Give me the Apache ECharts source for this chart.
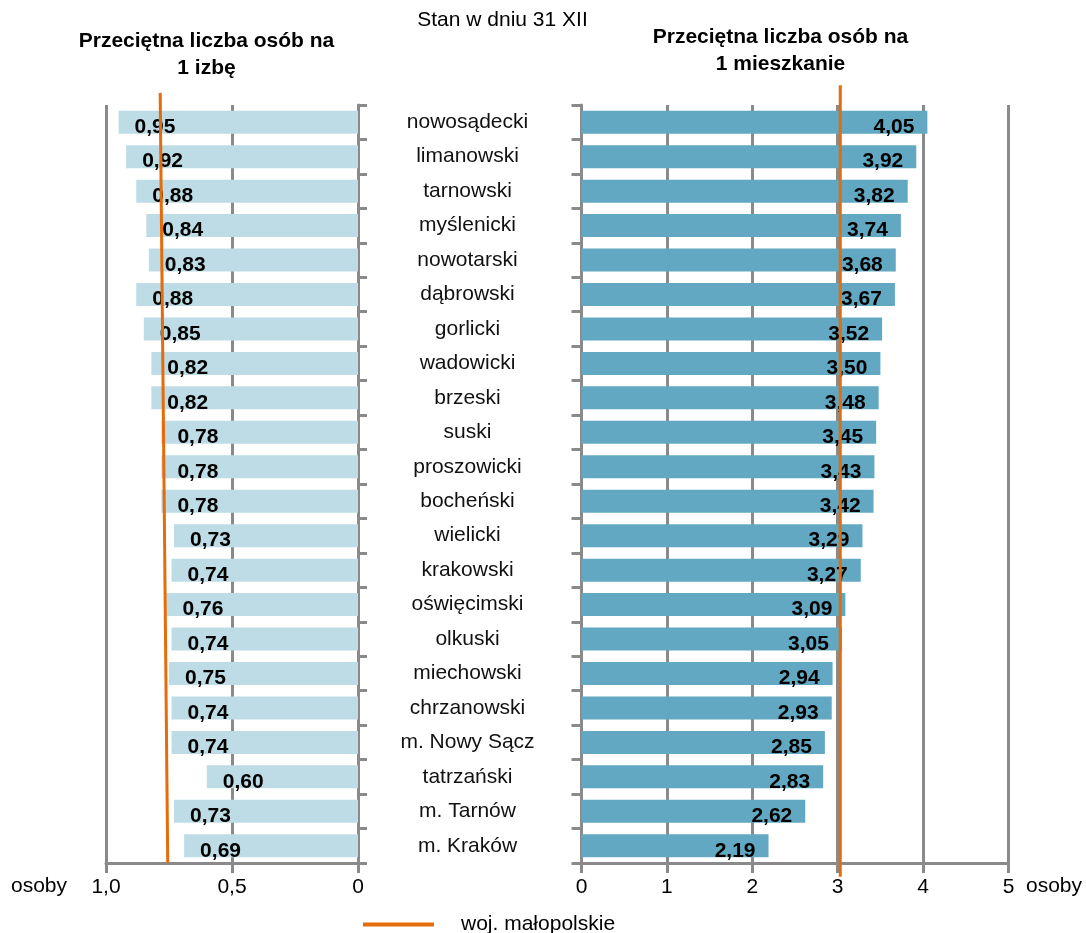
<!DOCTYPE html>
<html>
<head>
<meta charset="utf-8">
<script src="https://cdn.jsdelivr.net/npm/echarts@6/dist/echarts.min.js"></script>
<style>
html, body { margin: 0; padding: 0; background: #fff; }
#chart { width: 1086px; height: 933px; }
</style>
</head>
<body>
<div id="chart"></div>
<script>
var categories = ['nowosądecki', 'limanowski', 'tarnowski', 'myślenicki', 'nowotarski', 'dąbrowski',
    'gorlicki', 'wadowicki', 'brzeski', 'suski', 'proszowicki', 'bocheński', 'wielicki', 'krakowski',
    'oświęcimski', 'olkuski', 'miechowski', 'chrzanowski', 'm. Nowy Sącz', 'tatrzański', 'm. Tarnów', 'm. Kraków'];
var perRoom = [0.95, 0.92, 0.88, 0.84, 0.83, 0.88, 0.85, 0.82, 0.82, 0.78, 0.78, 0.78, 0.73, 0.74,
    0.76, 0.74, 0.75, 0.74, 0.74, 0.60, 0.73, 0.69];
var perDwelling = [4.05, 3.92, 3.82, 3.74, 3.68, 3.67, 3.52, 3.50, 3.48, 3.45, 3.43, 3.42, 3.29, 3.27,
    3.09, 3.05, 2.94, 2.93, 2.85, 2.83, 2.62, 2.19];
// woj. małopolskie line, as drawn (left one is slightly slanted in the source)
var avgRoomLine = [[0.785, 1.016], [0.755, 0]];
var avgDwellingLine = [[3.03, 1.026], [3.03, -0.018]];
var roomTicks = { min: 0, max: 1, interval: 0.5 };
var dwellingTicks = { min: 0, max: 5, interval: 1 };

var FONT = '"Liberation Sans", Arial, sans-serif';
var GRAY = '#8a8a8a';
var ORANGE = '#E46C0A';

function comma(v, d) {
    return v.toFixed(d).replace('.', ',');
}

var axisLine = { show: true, lineStyle: { color: GRAY, width: 3 } };
var tick = { show: true, length: 10, lineStyle: { color: GRAY, width: 3 } };
var split = { show: true, lineStyle: { color: GRAY, width: 3 } };

var myChart = echarts.init(document.getElementById('chart'));
var option = {
    animation: false,
    textStyle: { fontFamily: FONT },
    grid: [
        { left: 106, right: 728, top: 105, bottom: 70 },
        { left: 581.5, right: 77.5, top: 105, bottom: 70 }
    ],
    xAxis: [
        {
            gridIndex: 0, type: 'value', inverse: true,
            min: roomTicks.min, max: roomTicks.max, interval: roomTicks.interval,
            axisLine: axisLine, axisTick: tick, splitLine: split,
            axisLabel: {
                margin: 14, fontSize: 21, color: '#000', fontFamily: FONT,
                formatter: function (v) { return v === 0 ? '0' : comma(v, 1); }
            }
        },
        {
            gridIndex: 1, type: 'value',
            min: dwellingTicks.min, max: dwellingTicks.max, interval: dwellingTicks.interval,
            axisLine: axisLine, axisTick: tick, splitLine: split,
            axisLabel: { margin: 14, fontSize: 21, color: '#000', fontFamily: FONT }
        }
    ],
    yAxis: [
        {
            gridIndex: 0, type: 'category', data: categories, inverse: true, position: 'right',
            axisLine: axisLine, axisTick: { show: true, length: 9, lineStyle: { color: GRAY, width: 3 } },
            axisLabel: { show: false }
        },
        { gridIndex: 0, type: 'value', min: 0, max: 1, show: false },
        {
            gridIndex: 1, type: 'category', data: categories, inverse: true, position: 'left',
            axisLine: axisLine, axisTick: { show: true, length: 10, lineStyle: { color: GRAY, width: 3 } },
            axisLabel: {
                margin: 114, align: 'center', fontSize: 21, color: '#111', fontFamily: FONT,
                padding: [10, 0, 0, 0]
            }
        },
        { gridIndex: 1, type: 'value', min: 0, max: 1, show: false }
    ],
    legend: {
        left: 358, top: 909, icon: 'rect', itemWidth: 71, itemHeight: 4,
        data: ['woj. małopolskie'],
        textStyle: { fontSize: 21, color: '#000', fontFamily: FONT, padding: [0, 0, 0, 22] }
    },
    graphic: [
        { type: 'text', x: 502.5, y: 20, style: { text: 'Stan w dniu 31 XII', font: '21px ' + FONT, fill: '#000', align: 'center', verticalAlign: 'middle' } },
        { type: 'text', x: 206.5, y: 55, style: { text: 'Przeciętna liczba osób na\n1 izbę', font: 'bold 21px ' + FONT, lineHeight: 27, fill: '#000', align: 'center', verticalAlign: 'middle' } },
        { type: 'text', x: 780.5, y: 51, style: { text: 'Przeciętna liczba osób na\n1 mieszkanie', font: 'bold 21px ' + FONT, lineHeight: 27, fill: '#000', align: 'center', verticalAlign: 'middle' } },
        { type: 'text', x: 39, y: 886, style: { text: 'osoby', font: '21px ' + FONT, fill: '#000', align: 'center', verticalAlign: 'middle' } },
        { type: 'text', x: 1054, y: 886, style: { text: 'osoby', font: '21px ' + FONT, fill: '#000', align: 'center', verticalAlign: 'middle' } }
    ],
    series: [
        {
            name: 'izba', type: 'bar', xAxisIndex: 0, yAxisIndex: 0, data: perRoom, barWidth: 23,
            itemStyle: { color: '#BDDCE5' },
            label: {
                show: true, position: 'insideLeft', distance: 0, offset: [16, 5],
                fontSize: 21, fontWeight: 'bold', color: '#000', fontFamily: FONT,
                formatter: function (p) { return comma(p.value, 2); }
            }
        },
        {
            name: 'mieszkanie', type: 'bar', xAxisIndex: 1, yAxisIndex: 2, data: perDwelling, barWidth: 23,
            itemStyle: { color: '#62A8C2' },
            label: {
                show: true, position: 'insideRight', distance: 0, offset: [-13, 5],
                fontSize: 21, fontWeight: 'bold', color: '#000', fontFamily: FONT,
                formatter: function (p) { return comma(p.value, 2); }
            }
        },
        {
            name: 'woj. małopolskie', type: 'line', xAxisIndex: 0, yAxisIndex: 1, data: avgRoomLine,
            showSymbol: false, clip: false, z: 5, color: ORANGE, lineStyle: { color: ORANGE, width: 3 }
        },
        {
            name: 'woj. małopolskie', type: 'line', xAxisIndex: 1, yAxisIndex: 3, data: avgDwellingLine,
            showSymbol: false, clip: false, z: 5, color: ORANGE, lineStyle: { color: ORANGE, width: 3 }
        }
    ]
};
myChart.setOption(option);
window.onresize = myChart.resize;
</script>
</body>
</html>
